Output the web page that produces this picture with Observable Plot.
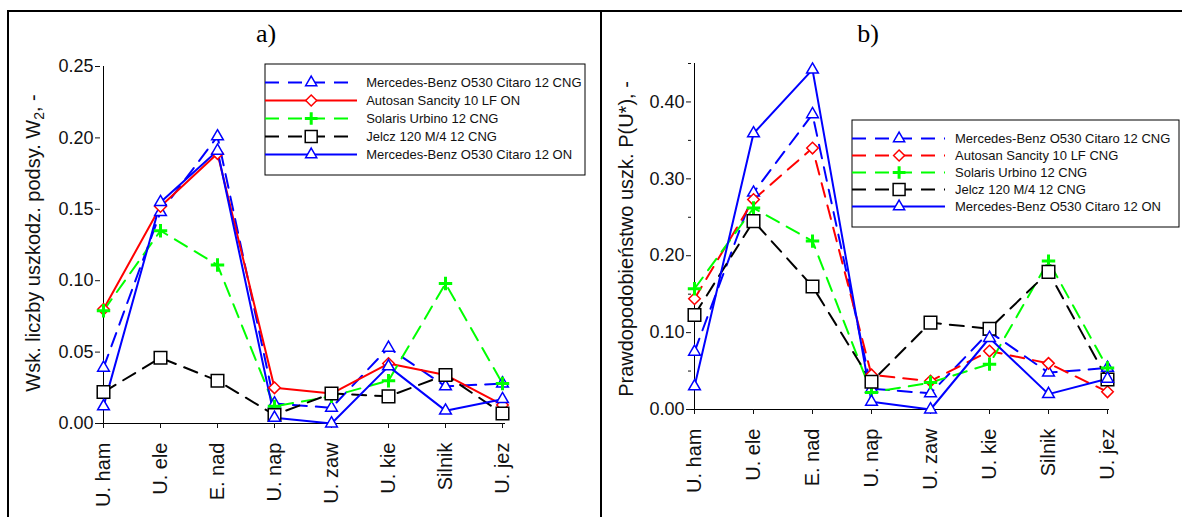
<!DOCTYPE html>
<html><head><meta charset="utf-8">
<script src="https://cdn.jsdelivr.net/npm/d3@7"></script>
<script src="https://cdn.jsdelivr.net/npm/@observablehq/plot@0.6"></script>
<style>
html,body{margin:0;padding:0;background:#fff;}
#root{position:relative;width:1182px;height:517px;overflow:hidden;background:#fff;font-family:"Liberation Sans",Arial,sans-serif;}
#root svg{position:absolute;}
.line{position:absolute;background:#000;}
.title{position:absolute;font-family:"Liberation Serif","Times New Roman",serif;font-size:26px;transform:translate(-50%,-50%);color:#000;white-space:nowrap;}
.ylab{position:absolute;font-size:20px;white-space:nowrap;transform:translate(-50%,-50%) rotate(-90deg);color:#111;}
.ylab sub{font-size:14px;vertical-align:-4px;line-height:0;}
</style></head><body><div id="root"></div>
<script>
// ---- data ----
const categories = ["U. ham","U. ele","E. nad","U. nap","U. zaw","U. kie","Silnik","U. jez"];
const namesA = ["Mercedes-Benz O530 Citaro 12 CNG","Autosan Sancity 10 LF ON","Solaris Urbino 12 CNG","Jelcz 120 M/4 12 CNG","Mercedes-Benz O530 Citaro 12 ON"];
const namesB = ["Mercedes-Benz O530 Citaro 12 CNG","Autosan Sancity 10 LF CNG","Solaris Urbino 12 CNG","Jelcz 120 M/4 12 CNG","Mercedes-Benz O530 Citaro 12 ON"];

// panel a) W2
const mercCngA = [0.039,0.148,0.201,0.014,0.011,0.053,0.026,0.028];
const autosanA = [0.080,0.152,0.189,0.025,0.021,0.042,0.034,0.013];
const solarisA = [0.079,0.135,0.111,0.012,0.019,0.030,0.098,0.028];
const jelczA   = [0.022,0.046,0.030,0.006,0.021,0.019,0.034,0.007];
const mercOnA  = [0.012,0.155,0.191,0.004,0.000,0.040,0.009,0.017];

// panel b) P(U*)
const mercCngB = [0.075,0.282,0.384,0.027,0.021,0.101,0.048,0.054];
const autosanB = [0.144,0.273,0.340,0.045,0.037,0.076,0.060,0.023];
const solarisB = [0.157,0.262,0.219,0.022,0.035,0.059,0.193,0.054];
const jelczB   = [0.123,0.245,0.160,0.036,0.113,0.105,0.179,0.039];
const mercOnB  = [0.030,0.359,0.442,0.010,0.000,0.093,0.020,0.040];

const ticksA = [0,0.05,0.10,0.15,0.20,0.25];
const ticksB = [0,0.10,0.20,0.30,0.40];
const minorB = [0.05,0.15,0.25,0.35,0.45];

const titleA = "Wsk. liczby uszkodz. podsy. W<sub>2</sub>, -";
const titleB = "Prawdopodobieństwo uszk. P(U*), -";

// ---- styles ----
const DASH = "14,9";
const stylesA = [
  {color:"#0000ff", dash:DASH, symbol:"triangle2", r:5.6, sw:1.5, fill:"white"},
  {color:"#ff0000", dash:null, symbol:"diamond2", r:5.2, sw:1.5, fill:"white"},
  {color:"#00ff00", dash:DASH, symbol:"plus", r:4.4, sw:3, fill:"none"},
  {color:"#000000", dash:DASH, symbol:"square2", r:8, sw:1.5, fill:"white"},
  {color:"#0000ff", dash:null, symbol:"triangle2", r:5.6, sw:1.5, fill:"white"}
];
const stylesB = stylesA.map((s,i)=> i===1 ? {...s, dash:DASH} : s);

const FONT = "'Liberation Sans', Arial, sans-serif";
const root = document.getElementById("root");

function rowsFor(names, valueLists){
  return names.map((n,i)=>categories.map((c,j)=>({series:n, cat:c, value:valueLists[i][j]})));
}

function panel({names, values, styles, domain, ticks, minor, width, ml, mr, mt, mb}){
  const rows = rowsFor(names, values);
  const marks = [
    Plot.ruleY([0], {stroke:"#000", strokeWidth:1}),
    Plot.ruleX([categories[0]], {stroke:"#000", strokeWidth:1}),
    Plot.axisY(ticks, {tickSize:5, tickPadding:2, tickFormat:d3.format(".2f"), fontSize:18, label:null}),
    Plot.axisX({tickRotate:-90, tickSize:5, tickPadding:14, fontSize:20, label:null})
  ];
  if (minor) marks.push(Plot.axisY(minor, {tickSize:3, tickFormat:()=>"", label:null}));
  rows.forEach((r,i)=>{
    const s = styles[i];
    marks.push(Plot.line(r, {x:"cat", y:"value", stroke:s.color, strokeWidth:2, strokeDasharray:s.dash || undefined}));
  });
  rows.forEach((r,i)=>{
    const s = styles[i];
    marks.push(Plot.dot(r, {x:"cat", y:"value", symbol:s.symbol, r:s.r, stroke:s.color, strokeWidth:s.sw, fill:s.fill}));
  });
  return Plot.plot({
    width, height:517, marginLeft:ml, marginRight:mr, marginTop:mt, marginBottom:mb,
    x:{type:"point", domain:categories, padding:0},
    y:{domain},
    style:{fontFamily:FONT, background:"transparent", color:"#111", overflow:"visible"},
    marks
  });
}

function legend({names, styles, width, height, y0, y1, lineEnd, markX, textX}){
  const marks = [Plot.frame({stroke:"#000", strokeWidth:1, inset:0.5})];
  names.forEach((n,i)=>{
    const s = styles[i];
    marks.push(Plot.ruleY([n], {x1:1, x2:lineEnd, stroke:s.color, strokeWidth:2, strokeDasharray:s.dash || undefined}));
    marks.push(Plot.dot([n], {x:markX, y:d=>d, symbol:s.symbol, r:s.r*0.95, stroke:s.color, strokeWidth:s.sw, fill:s.fill}));
  });
  marks.push(Plot.text(names, {x:textX, y:d=>d, text:d=>d, textAnchor:"start", fontSize:13, fill:"#111"}));
  return Plot.plot({
    width, height, margin:0,
    x:{type:"identity", axis:null},
    y:{type:"point", domain:names, range:[y0,y1], axis:null},
    style:{fontFamily:FONT, background:"transparent", overflow:"visible"},
    marks
  });
}

function place(el, left, top){ el.style.left = left+"px"; el.style.top = top+"px"; root.appendChild(el); return el; }
function div(cls, html, left, top, w, h){
  const d = document.createElement("div"); d.className = cls; d.innerHTML = html || "";
  d.style.left = left+"px"; d.style.top = top+"px";
  if (w!=null) d.style.width = w+"px"; if (h!=null) d.style.height = h+"px";
  root.appendChild(d); return d;
}

place(panel({names:namesA, values:[mercCngA,autosanA,solarisA,jelczA,mercOnA], styles:stylesA,
  domain:[0,0.25], ticks:ticksA, minor:null, width:600, ml:100, mr:95, mt:66, mb:94}), 0, 0);
place(panel({names:namesB, values:[mercCngB,autosanB,solarisB,jelczB,mercOnB], styles:stylesB,
  domain:[0,0.45], ticks:ticksB, minor:minorB, width:582, ml:91, mr:73, mt:63, mb:108}), 600, 0);

place(legend({names:namesA, styles:stylesA, width:321, height:112, y0:9, y1:100, lineEnd:93, markX:46.7, textX:101.7}), 264, 63);
place(legend({names:namesB, styles:stylesB, width:328, height:108, y0:8.5, y1:97, lineEnd:94, markX:47.6, textX:103.5}), 851, 119);

// frame lines
div("line", "", 7, 10, 1200, 2);
div("line", "", 7, 10, 2, 520);
div("line", "", 600, 10, 2, 520);

div("title", "a)", 266, 34);
div("title", "b)", 868, 34);
div("ylab", titleA, 33, 243);
div("ylab", titleB, 626, 239);
</script></body></html>
